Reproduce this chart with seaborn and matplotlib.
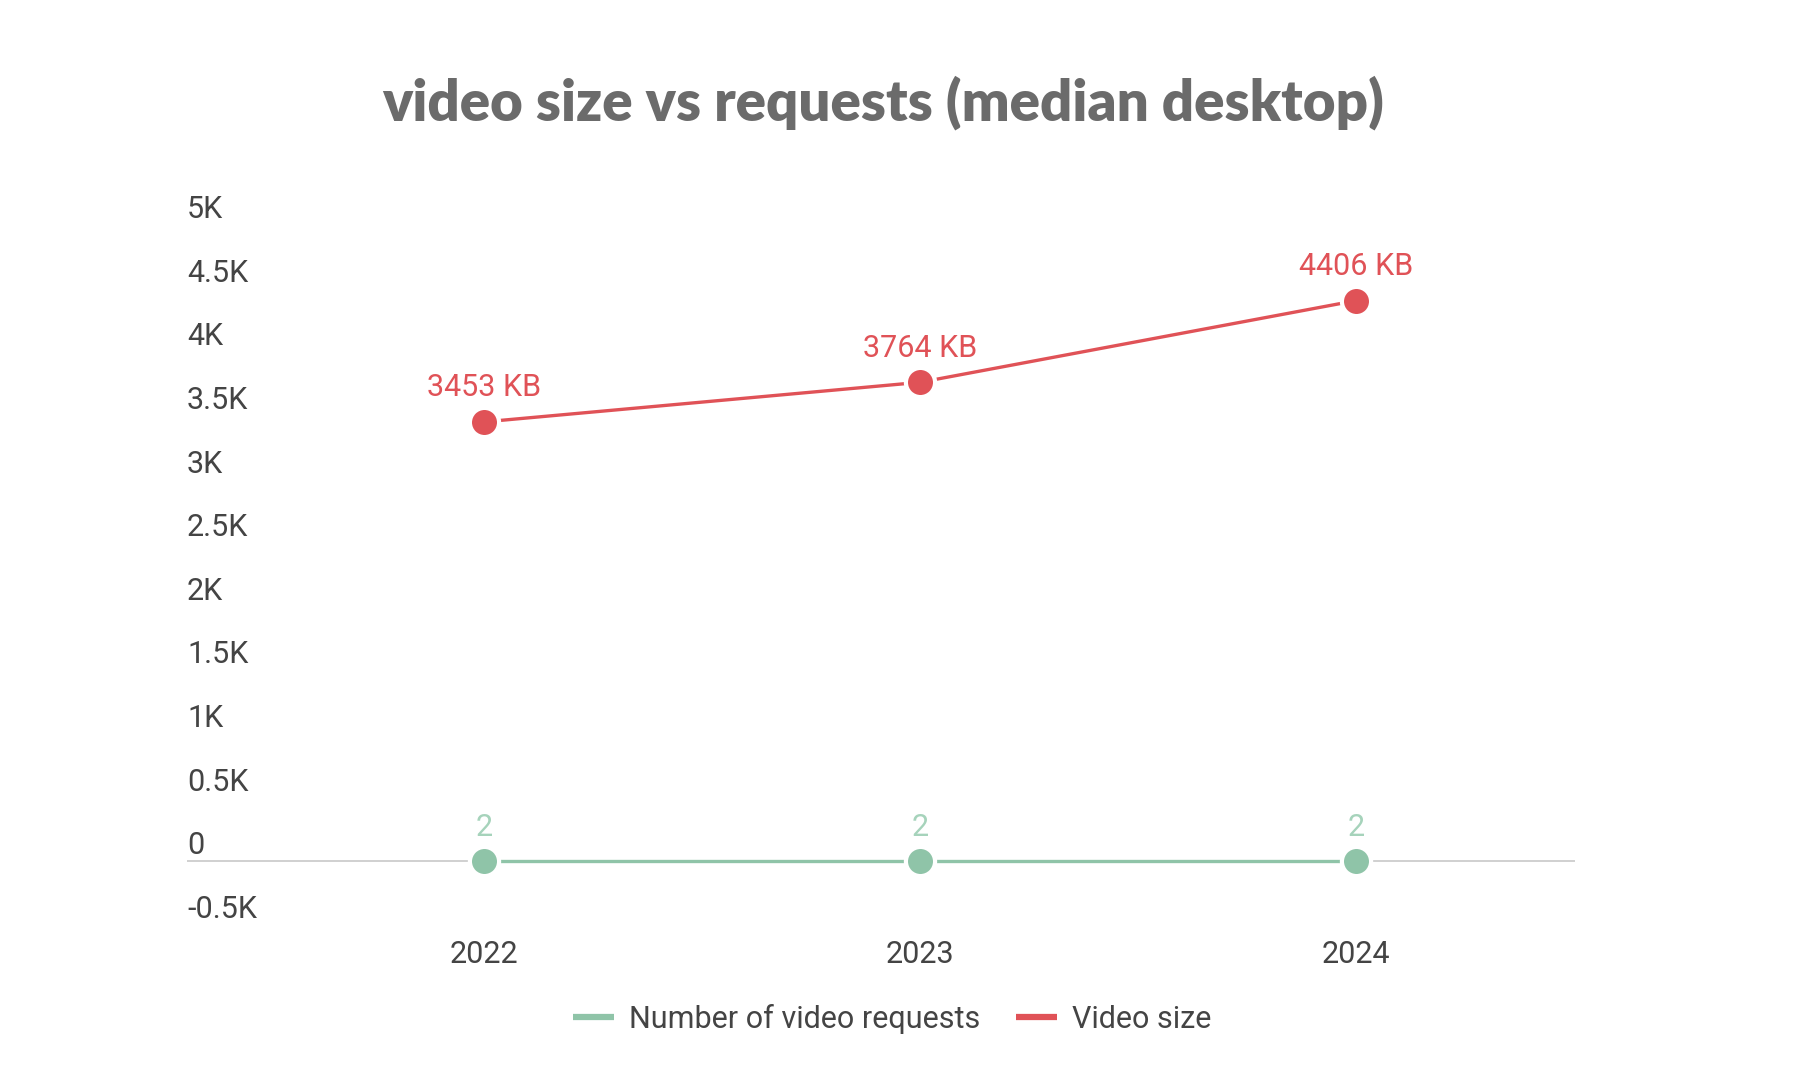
import matplotlib
matplotlib.use("Agg")
import matplotlib.pyplot as plt
from matplotlib.lines import Line2D
import seaborn as sns
import pandas as pd

years = ["2022", "2023", "2024"]
video_requests = [2, 2, 2]
video_size_kb = [3453, 3764, 4406]
series_names = ["Number of video requests", "Video size"]
y_ticks = [-500, 0, 500, 1000, 1500, 2000, 2500, 3000, 3500, 4000, 4500, 5000]
y_tick_labels = ["-0.5K", "0", "0.5K", "1K", "1.5K", "2K", "2.5K", "3K", "3.5K", "4K", "4.5K", "5K"]
title = "video size vs requests (median desktop)"

GREEN = "#8fc4a8"
RED = "#e05257"
TEXT = "#444444"
FS = 22

sns.set_theme(style="white")
plt.rcParams["font.family"] = ["Roboto", "DejaVu Sans"]

fig = plt.figure(figsize=(18, 10.87), dpi=100)
ax = fig.add_axes([187 / 1800, (1087 - 925) / 1087, 1388 / 1800, 700 / 1087])

x = list(range(len(years)))
df = pd.DataFrame({
    "x": x * 2,
    "value": video_requests + video_size_kb,
    "series": [series_names[0]] * 3 + [series_names[1]] * 3,
})

ax.axhline(0, color="#c8c8c8", lw=1.2, zorder=1)

sns.lineplot(data=df, x="x", y="value", hue="series",
             palette={series_names[0]: GREEN, series_names[1]: RED},
             lw=2.4, marker="o", markersize=21, markeredgecolor="white",
             markeredgewidth=3, legend=False, ax=ax, zorder=3)

for xi, v in zip(x, video_size_kb):
    ax.annotate(f"{v} KB", (xi, v), xytext=(0, 14), textcoords="offset points",
                ha="center", va="bottom", fontsize=FS, color=RED)
for xi, v in zip(x, video_requests):
    ax.annotate(f"{v}", (xi, v), xytext=(0, 14), textcoords="offset points",
                ha="center", va="bottom", fontsize=FS, color="#a6d3bb")

ax.set_xlim(-0.681, 2.502)
ax.set_ylim(-500, 5000)
ax.set_xticks(x)
ax.set_xticklabels(years, fontsize=FS, color=TEXT)
ax.tick_params(axis="x", length=0, pad=11)
ax.set_yticks([])
ax.set_xlabel("")
ax.set_ylabel("")
for t, lab in zip(y_ticks, y_tick_labels):
    ax.text(0, t + 8, lab, transform=ax.get_yaxis_transform(), ha="left",
            va="bottom", fontsize=FS, color=TEXT)
for s in ax.spines.values():
    s.set_visible(False)

fig.text(883 / 1800, 1 - 103 / 1087, title, ha="center", va="center",
         fontsize=40.6, fontweight="heavy", color="#6b6b6b", family=["Lato", "DejaVu Sans"])

handles = [Line2D([], [], color=GREEN, lw=4.5, solid_capstyle="butt"),
           Line2D([], [], color=RED, lw=4.5, solid_capstyle="butt")]
fig.legend(handles, series_names, loc="center", ncol=2,
           bbox_to_anchor=(892 / 1800, 1 - 1019 / 1087), frameon=False,
           fontsize=FS, handlelength=1.35, columnspacing=1.15, handletextpad=0.5,
           labelcolor=TEXT)

fig.savefig("out.png", dpi=100)
